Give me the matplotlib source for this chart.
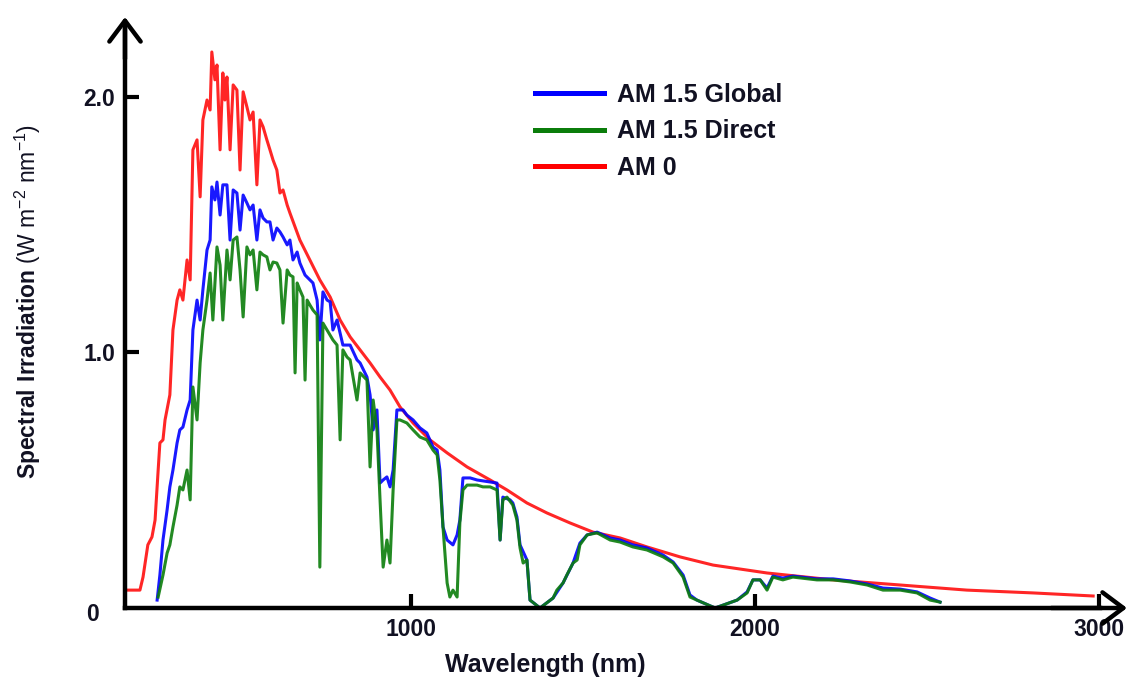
import matplotlib
matplotlib.use('Agg')  # no display in the sandbox
import matplotlib.pyplot as plt
import matplotlib.transforms as mtransforms
from matplotlib import font_manager

plt.rcParams['font.family'] = ['Liberation Sans', 'DejaVu Sans']
plt.rcParams['mathtext.fontset'] = 'custom'
plt.rcParams['mathtext.rm'] = 'Liberation Sans'
plt.rcParams['mathtext.bf'] = 'Liberation Sans:bold'

# AM 0 (extraterrestrial), wavelength in nm, irradiance in W m-2 nm-1
wl_am0 = [177, 212, 221, 235, 247, 256, 265, 270, 279, 285, 299, 308, 320, 328,
          337, 349, 358, 366, 378, 387, 395, 407, 416, 421, 430, 436, 445, 453,
          459, 465, 474, 483, 494, 503, 512, 523, 532, 541, 552, 561, 570, 581,
          590, 599, 610, 619, 628, 640, 648, 677, 706, 735, 765, 794, 823, 852,
          881, 910, 939, 968, 1006, 1055, 1105, 1163, 1230, 1279, 1337, 1395,
          1462, 1529, 1608, 1686, 1782, 1878, 2035, 2227, 2422, 2616, 2808, 2983]
am0 = [0.070, 0.070, 0.121, 0.247, 0.278, 0.344, 0.540, 0.646, 0.658, 0.736,
       0.834, 1.088, 1.205, 1.245, 1.205, 1.362, 1.284, 1.793, 1.832, 1.609,
       1.910, 1.988, 1.949, 2.176, 2.067, 2.125, 1.793, 2.094, 1.988, 2.078,
       1.793, 2.047, 2.027, 1.714, 2.020, 1.961, 1.910, 1.941, 1.656, 1.910,
       1.883, 1.832, 1.793, 1.753, 1.714, 1.624, 1.636, 1.577, 1.546, 1.440,
       1.362, 1.284, 1.217, 1.127, 1.061, 1.010, 0.959, 0.904, 0.853, 0.787,
       0.724, 0.658, 0.607, 0.552, 0.501, 0.462, 0.411, 0.372, 0.333, 0.297,
       0.274, 0.239, 0.200, 0.168, 0.137, 0.110, 0.090, 0.070, 0.059, 0.047]

# AM 1.5 Global
wl_global = [262, 270, 279, 291, 299, 308, 320, 328, 337, 349, 358, 366, 378, 387,
             395, 407, 416, 421, 430, 436, 445, 453, 465, 474, 483, 494, 503, 512,
             523, 532, 541, 552, 561, 570, 581, 590, 599, 610, 619, 628, 640, 648,
             657, 669, 677, 692, 706, 715, 727, 735, 744, 756, 765, 773, 785, 802,
             823, 843, 852, 872, 881, 890, 901, 910, 919, 930, 939, 948, 959, 977,
             988, 1006, 1026, 1046, 1064, 1076, 1084, 1093, 1105, 1122, 1134, 1142,
             1151, 1172, 1192, 1230, 1250, 1259, 1267, 1288, 1296, 1308, 1317, 1337,
             1346, 1375, 1413, 1442, 1471, 1491, 1512, 1541, 1579, 1608, 1645, 1686,
             1733, 1762, 1791, 1811, 1831, 1884, 1948, 1977, 1994, 2015, 2035, 2052,
             2081, 2110, 2180, 2227, 2276, 2326, 2372, 2422, 2471, 2509, 2538]
am15g = [0.031, 0.129, 0.266, 0.384, 0.474, 0.540, 0.646, 0.697, 0.708, 0.775,
         0.814, 1.088, 1.205, 1.127, 1.245, 1.401, 1.440, 1.648, 1.597, 1.667,
         1.538, 1.656, 1.656, 1.440, 1.636, 1.624, 1.479, 1.616, 1.585, 1.558,
         1.577, 1.440, 1.558, 1.526, 1.511, 1.511, 1.440, 1.487, 1.472, 1.452,
         1.421, 1.440, 1.362, 1.393, 1.350, 1.303, 1.284, 1.272, 1.205, 1.049,
         1.237, 1.205, 1.198, 1.088, 1.127, 1.029, 1.029, 0.971, 0.959, 0.904,
         0.834, 0.697, 0.775, 0.489, 0.501, 0.513, 0.474, 0.540, 0.775, 0.775,
         0.755, 0.736, 0.705, 0.685, 0.630, 0.618, 0.540, 0.317, 0.266, 0.247,
         0.286, 0.344, 0.509, 0.509, 0.501, 0.493, 0.489, 0.266, 0.434, 0.423,
         0.411, 0.356, 0.247, 0.188, 0.031, 0.0, 0.039, 0.098, 0.176, 0.254,
         0.286, 0.297, 0.274, 0.266, 0.247, 0.235, 0.207, 0.180, 0.129, 0.051,
         0.031, 0.0, 0.031, 0.063, 0.110, 0.110, 0.078, 0.125, 0.117, 0.125,
         0.114, 0.114, 0.106, 0.094, 0.078, 0.074, 0.063, 0.039, 0.023]

# AM 1.5 Direct
wl_direct = [265, 279, 291, 299, 308, 320, 328, 337, 349, 358, 366, 378, 387, 395,
             407, 416, 424, 436, 445, 453, 465, 474, 483, 494, 503, 512, 523, 532,
             541, 552, 561, 570, 581, 590, 599, 610, 619, 628, 640, 648, 657, 663,
             669, 677, 686, 692, 698, 706, 715, 727, 735, 744, 756, 765, 773, 785,
             794, 802, 814, 823, 843, 852, 872, 881, 890, 901, 910, 919, 930, 939,
             948, 959, 968, 988, 1006, 1026, 1046, 1064, 1076, 1084, 1093, 1105,
             1113, 1122, 1134, 1142, 1151, 1163, 1192, 1209, 1230, 1250, 1259, 1267,
             1279, 1296, 1308, 1317, 1326, 1337, 1346, 1375, 1413, 1424, 1442, 1453,
             1471, 1483, 1491, 1512, 1541, 1579, 1608, 1645, 1686, 1733, 1762, 1791,
             1811, 1831, 1884, 1948, 1977, 1994, 2015, 2035, 2052, 2081, 2110, 2180,
             2227, 2276, 2326, 2372, 2422, 2471, 2509, 2538]
am15d = [0.043, 0.129, 0.215, 0.247, 0.317, 0.403, 0.474, 0.462, 0.540, 0.423,
         0.865, 0.736, 0.959, 1.088, 1.205, 1.311, 1.127, 1.413, 1.342, 1.127,
         1.401, 1.284, 1.440, 1.452, 1.323, 1.139, 1.413, 1.382, 1.401, 1.245,
         1.393, 1.382, 1.374, 1.323, 1.354, 1.350, 1.323, 1.115, 1.323, 1.303,
         1.296, 0.920, 1.272, 1.245, 1.217, 0.892, 1.205, 1.186, 1.166, 1.147,
         0.160, 1.115, 1.088, 1.068, 1.049, 1.029, 0.658, 1.010, 0.982, 0.971,
         0.814, 0.920, 0.892, 0.552, 0.814, 0.697, 0.423, 0.160, 0.266, 0.176,
         0.462, 0.736, 0.736, 0.724, 0.697, 0.669, 0.658, 0.618, 0.599, 0.501,
         0.317, 0.098, 0.043, 0.070, 0.043, 0.333, 0.462, 0.481, 0.481, 0.474,
         0.474, 0.462, 0.266, 0.423, 0.434, 0.403, 0.344, 0.235, 0.176, 0.188,
         0.031, 0.0, 0.039, 0.070, 0.098, 0.129, 0.176, 0.188, 0.247, 0.286,
         0.294, 0.266, 0.258, 0.239, 0.227, 0.200, 0.176, 0.121, 0.043, 0.031,
         0.0, 0.031, 0.059, 0.110, 0.110, 0.070, 0.121, 0.110, 0.121, 0.110,
         0.110, 0.102, 0.090, 0.070, 0.070, 0.059, 0.031, 0.023]

x_ticks = [1000, 2000, 3000]
x_tick_labels = ['1000', '2000', '3000']
y_ticks = [0, 1.0, 2.0]
y_tick_labels = ['0', '1.0', '2.0']

# tick labels in the original are a narrow bold face
names = {f.name for f in font_manager.fontManager.ttflist}
if 'Liberation Sans Narrow' in names:
    tick_family, tick_size = 'Liberation Sans Narrow', 20
else:
    tick_family, tick_size = 'Liberation Sans', 16.5

W, H = 1127, 685
fig = plt.figure(figsize=(W / 100, H / 100), dpi=100)
ax = fig.add_axes([125 / W, 77 / H, 975 / W, 578 / H])

ax.plot(wl_am0, am0, color='#ff1a1a', lw=2.2, zorder=3, alpha=0.95)
ax.plot(wl_global, am15g, color='#0000ff', lw=2.2, zorder=4, alpha=0.9)
ax.plot(wl_direct, am15d, color='#0b7d0b', lw=2.2, zorder=5, alpha=0.9)

ax.set_xlim(168.6, 3002.9)
ax.set_ylim(0, 2.262)

for side in ['top', 'right']:
    ax.spines[side].set_visible(False)
for side in ['left', 'bottom']:
    ax.spines[side].set_linewidth(3.2)
    ax.spines[side].set_zorder(10)

ax.set_xticks(x_ticks)
ax.set_xticklabels(x_tick_labels)
ax.set_yticks(y_ticks)
ax.set_yticklabels(y_tick_labels)
ax.tick_params(direction='in', length=10, width=3, labelsize=tick_size, colors='black')
ax.tick_params(axis='x', pad=7)
ax.tick_params(axis='y', pad=7)
for lbl in ax.get_xticklabels() + ax.get_yticklabels():
    lbl.set_fontweight('bold')
    lbl.set_family(tick_family)
    lbl.set_color('#111122')
# no tick mark at the origin, and its label sits further left
ax.yaxis.get_major_ticks()[0].tick1line.set_visible(False)
zero_lbl = ax.get_yticklabels()[0]
zero_lbl.set_transform(zero_lbl.get_transform() +
                       mtransforms.ScaledTranslation(-16 / 100, -4 / 100, fig.dpi_scale_trans))

# arrow heads on the axes
head = '->,head_length=0.6,head_width=0.45'
ax.annotate('', xy=(0, 1.0225), xytext=(0, 0.95), xycoords='axes fraction',
            arrowprops=dict(arrowstyle=head, lw=3.2, color='black', mutation_scale=25,
                            shrinkA=0, shrinkB=0), annotation_clip=False, zorder=11)
ax.annotate('', xy=(1.0277, 0), xytext=(0.95, 0), xycoords='axes fraction',
            arrowprops=dict(arrowstyle=head, lw=3.2, color='black', mutation_scale=25,
                            shrinkA=0, shrinkB=0), annotation_clip=False, zorder=11)

fig.text(545 / W, 1 - 665 / H, 'Wavelength (nm)', fontsize=18, fontweight='bold',
         ha='center', va='center', color='#111122')
fig.text(28 / W, 1 - 301 / H, r'$\bf{Spectral\ Irradiation}$ (W m$^{-2}$ nm$^{-1}$)',
         fontsize=16.5, rotation=90, ha='center', va='center', color='#111122')

l_0 = plt.Line2D([], [], color='#ff0000', lw=3.6)
l_gl = plt.Line2D([], [], color='#0000ff', lw=3.6)
l_di = plt.Line2D([], [], color='#0b7d0b', lw=3.6)
leg = ax.legend([l_gl, l_di, l_0], ['AM 1.5 Global', 'AM 1.5 Direct', 'AM 0'],
                loc='upper left', bbox_to_anchor=(535 / W, 1 - 83 / H),
                bbox_transform=fig.transFigure, frameon=False, borderpad=0,
                borderaxespad=0, handlelength=2.76, handletextpad=0.52,
                labelspacing=0.5, prop={'size': 18, 'weight': 'bold'})
for t in leg.get_texts():
    t.set_color('#111122')

plt.savefig('out.png', dpi=100)
plt.close()
